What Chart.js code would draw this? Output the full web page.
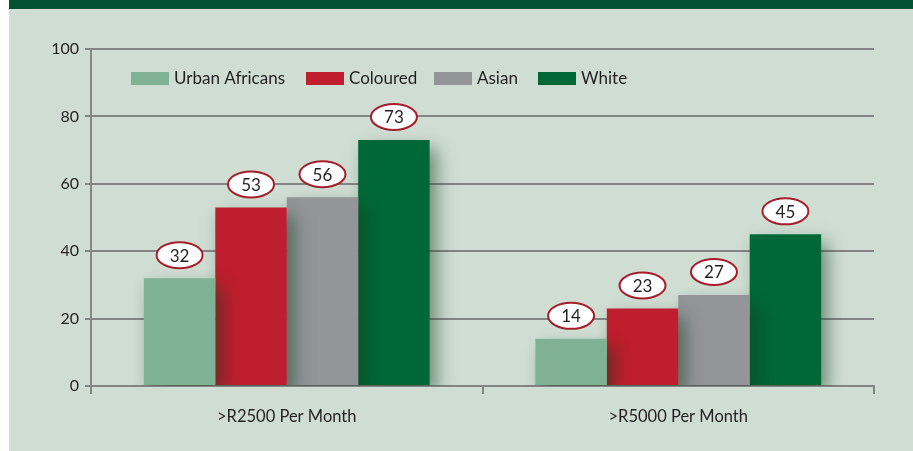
<!DOCTYPE html>
<html>
<head>
<meta charset="utf-8">
<script src="https://cdn.jsdelivr.net/npm/chart.js@4"></script>
<style>
   html, body { margin: 0; padding: 0; background: #ffffff; }
   #wrap { position: relative; width: 913px; height: 451px; overflow: hidden; }
   #panel { position: absolute; left: 9px; top: 0; right: 0; bottom: 0; background: #cfddd3; }
   #topbar { position: absolute; left: 9px; top: 0; right: 0; height: 9px; background: #005232; }
   #chart { position: absolute; left: 0; top: 0; }
</style>
</head>
<body>
<div id="wrap">
   <div id="panel"></div>
   <div id="topbar"></div>
   <canvas id="chart" width="913" height="451"></canvas>
</div>
<script>
const categories = ['>R2500 Per Month', '>R5000 Per Month'];
const seriesNames = ['Urban Africans', 'Coloured', 'Asian', 'White'];
const urbanAfricans = [32, 14];
const coloured = [53, 23];
const asian = [56, 27];
const white = [73, 45];
const seriesColors = ['#7fb294', '#be1e2d', '#939598', '#006838'];
const yTicks = [0, 20, 40, 60, 80, 100];

const FONT = 'Lato, "Open Sans", sans-serif';
const TEXT = '#231f20';
const GRID = '#848484';

// soft drop shadow behind each bar
const barShadow = {
   id: 'barShadow',
   beforeDatasetDraw(chart) {
      const ctx = chart.ctx;
      ctx.save();
      ctx.shadowColor = 'rgba(20, 60, 30, 0.5)';
      ctx.shadowBlur = 16;
      ctx.shadowOffsetX = 7;
      ctx.shadowOffsetY = 9;
   },
   afterDatasetDraw(chart) {
      chart.ctx.restore();
   }
};

// white ellipses with red outline holding the values
const ellipseLabels = {
   id: 'ellipseLabels',
   afterDatasetsDraw(chart) {
      const ctx = chart.ctx;
      ctx.save();
      chart.data.datasets.forEach((ds, i) => {
         const meta = chart.getDatasetMeta(i);
         meta.data.forEach((bar, j) => {
            const cx = bar.x;
            const cy = bar.y - 23;
            ctx.beginPath();
            ctx.ellipse(cx, cy, 23, 13, 0, 0, Math.PI * 2);
            ctx.fillStyle = '#ffffff';
            ctx.fill();
            ctx.lineWidth = 2;
            ctx.strokeStyle = '#a51d2a';
            ctx.stroke();
            ctx.fillStyle = TEXT;
            ctx.font = '17px ' + FONT;
            ctx.textAlign = 'center';
            ctx.textBaseline = 'middle';
            ctx.fillText(String(ds.data[j]), cx, cy + 1);
         });
      });
      ctx.restore();
   }
};

// legend drawn inside the plot, top left
const insideLegend = {
   id: 'insideLegend',
   afterDraw(chart) {
      const ctx = chart.ctx;
      const starts = [131, 306, 434, 538];
      const y = 78;
      ctx.save();
      ctx.font = '17px ' + FONT;
      ctx.textBaseline = 'middle';
      ctx.textAlign = 'left';
      chart.data.datasets.forEach((ds, i) => {
         const x = starts[i];
         ctx.fillStyle = ds.backgroundColor;
         ctx.fillRect(x, y - 6, 38, 13);
         ctx.fillStyle = TEXT;
         ctx.fillText(ds.label, x + 43, y + 1);
      });
      ctx.restore();
   }
};

const seriesValues = [urbanAfricans, coloured, asian, white];

new Chart(document.getElementById('chart').getContext('2d'), {
   type: 'bar',
   data: {
      labels: categories,
      datasets: seriesNames.map((name, i) => ({
         label: name,
         data: seriesValues[i],
         backgroundColor: seriesColors[i],
         borderWidth: 0,
         categoryPercentage: 0.73,
         barPercentage: 1.0,
      })),
   },
   options: {
      responsive: false,
      animation: false,
      layout: {
         padding: { top: 49, right: 39, left: 0, bottom: 0 },
      },
      plugins: {
         legend: { display: false },
         tooltip: { enabled: false },
      },
      scales: {
         x: {
            grid: {
               offset: true,
               drawOnChartArea: false,
               drawTicks: true,
               tickLength: 8,
               color: GRID,
               lineWidth: 2,
            },
            border: { display: true, color: GRID, width: 2 },
            ticks: {
               color: TEXT,
               font: { family: FONT, size: 16.5 },
               padding: 13,
            },
            afterFit(scale) { scale.height = 65; },
         },
         y: {
            min: 0,
            max: 100,
            afterBuildTicks(scale) {
               scale.ticks = yTicks.map(v => ({ value: v }));
            },
            grid: {
               color: GRID,
               lineWidth: 2,
               tickLength: 6,
            },
            border: { display: true, color: GRID, width: 2 },
            ticks: {
               color: TEXT,
               font: { family: FONT, size: 16 },
               padding: 6,
            },
            afterFit(scale) { scale.width = 91; },
         },
      },
   },
   plugins: [barShadow, ellipseLabels, insideLegend],
});
</script>
</body>
</html>
